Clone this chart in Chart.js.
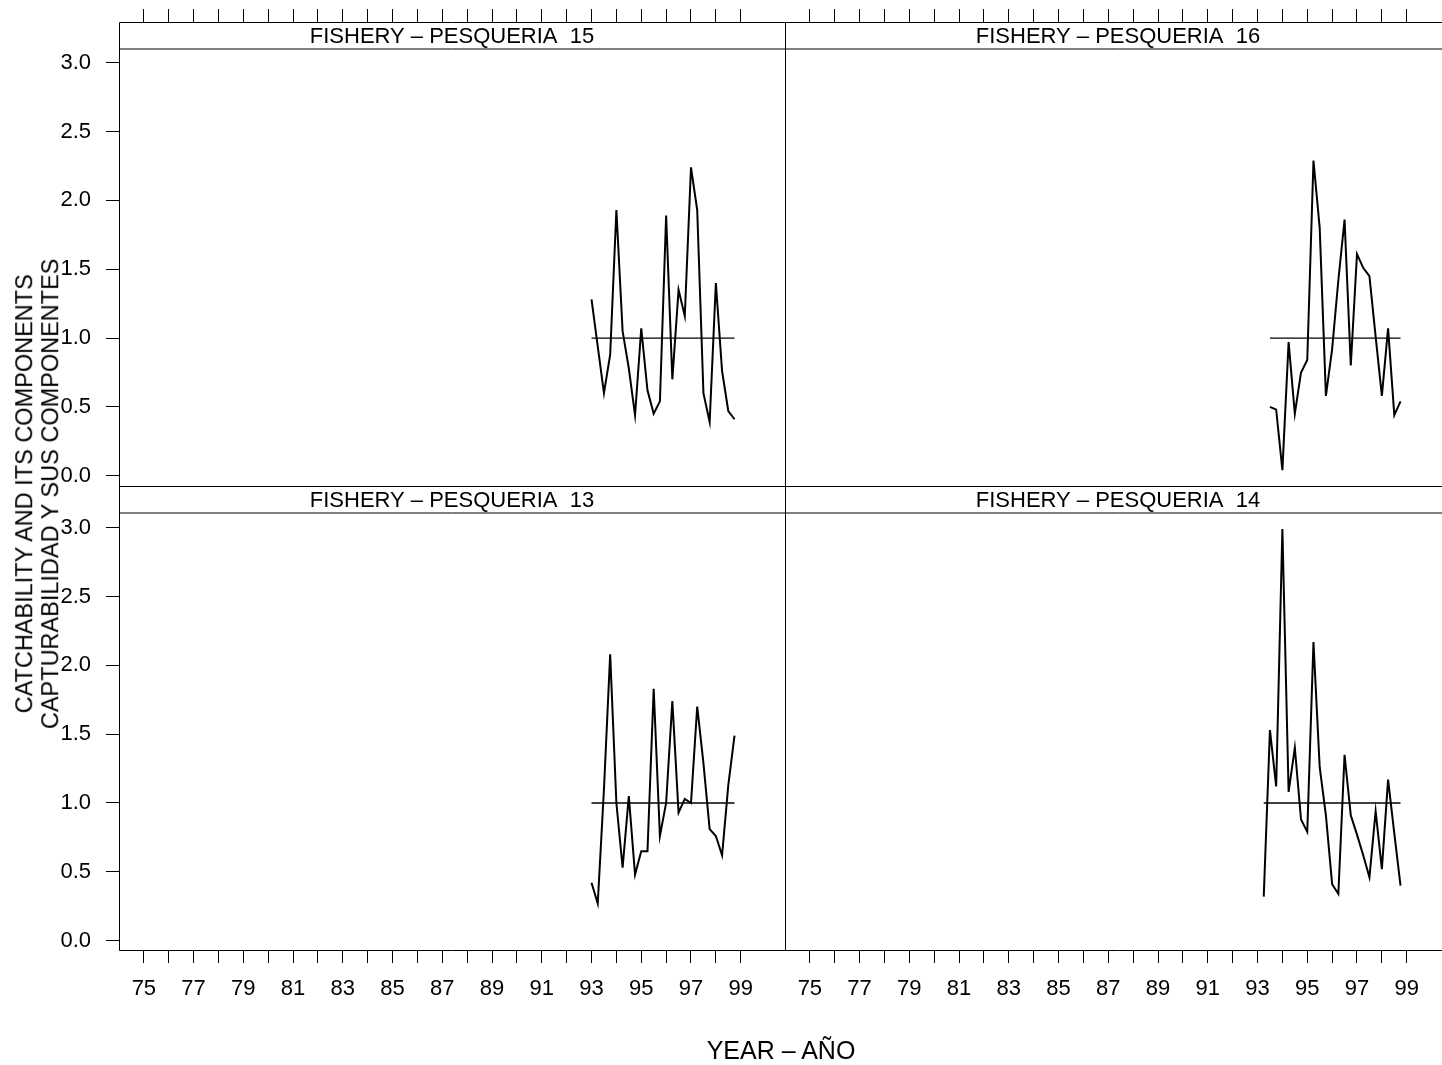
<!DOCTYPE html>
<html><head><meta charset="utf-8">
<script src="https://cdn.jsdelivr.net/npm/chart.js@4.4.1/dist/chart.umd.min.js"></script>
<style>
html,body{margin:0;padding:0;width:1442px;height:1065px;overflow:hidden;background:#fff;}
canvas{position:absolute;}
.t{position:absolute;font-family:"Liberation Sans",Arial,sans-serif;color:#000;white-space:nowrap;text-align:center;}
</style></head><body>
<canvas id="p15" width="800" height="500" style="left:0px;top:0px"></canvas>
<canvas id="p16" width="700" height="500" style="left:770px;top:0px"></canvas>
<canvas id="p13" width="800" height="595" style="left:0px;top:470px"></canvas>
<canvas id="p14" width="700" height="595" style="left:770px;top:470px"></canvas>
<div class="t" style="left:-262px;top:468px;width:600px;font-size:23.5px;line-height:25.8px;transform:rotate(-90deg);">CATCHABILITY AND ITS COMPONENTS<br>CAPTURABILIDAD Y SUS COMPONENTES</div>
<div class="t" style="left:581px;top:1036px;width:400px;font-size:25px;line-height:29px;">YEAR – AÑO</div>
<script>
// ---- data ----
const yearTicks = [75,76,77,78,79,80,81,82,83,84,85,86,87,88,89,90,91,92,93,94,95,96,97,98,99];
const yTicks = [0, 0.5, 1.0, 1.5, 2.0, 2.5, 3.0];
const refLevel = 1.0;

const q15 = [93.00,93.25,93.50,93.75,94.00,94.25,94.50,94.75,95.00,95.25,95.50,95.75,96.00,96.25,96.50,96.75,97.00,97.25,97.50,97.75,98.00,98.25,98.50,98.75];
const v15 = [1.28,0.94,0.60,0.88,1.93,1.05,0.78,0.44,1.07,0.62,0.45,0.54,1.89,0.70,1.35,1.16,2.24,1.93,0.60,0.39,1.40,0.76,0.47,0.41];

const q16 = [93.50,93.75,94.00,94.25,94.50,94.75,95.00,95.25,95.50,95.75,96.00,96.25,96.50,96.75,97.00,97.25,97.50,97.75,98.00,98.25,98.50,98.75];
const v16 = [0.50,0.48,0.04,0.97,0.45,0.75,0.84,2.29,1.80,0.58,0.92,1.42,1.86,0.80,1.61,1.51,1.45,1.01,0.58,1.07,0.44,0.54];

const q13 = [93.00,93.25,93.50,93.75,94.00,94.25,94.50,94.75,95.00,95.25,95.50,95.75,96.00,96.25,96.50,96.75,97.00,97.25,97.50,97.75,98.00,98.25,98.50,98.75];
const v13 = [0.42,0.27,1.10,2.08,1.00,0.53,1.05,0.48,0.65,0.65,1.83,0.76,1.00,1.74,0.93,1.03,1.00,1.70,1.29,0.81,0.76,0.62,1.13,1.49];

const q14 = [93.25,93.50,93.75,94.00,94.25,94.50,94.75,95.00,95.25,95.50,95.75,96.00,96.25,96.50,96.75,97.00,97.25,97.50,97.75,98.00,98.25,98.50,98.75];
const v14 = [0.32,1.53,1.12,2.99,1.08,1.40,0.88,0.79,2.17,1.26,0.91,0.41,0.34,1.35,0.91,0.77,0.62,0.46,0.94,0.52,1.17,0.78,0.40];

const stripPrefix = 'FISHERY – PESQUERIA  ';

// ---- drawing ----
const FONT = '"Liberation Sans", Arial, sans-serif';

const stripPlugin = {
  id: 'strip',
  afterDraw(chart, args, opts) {
    const ctx = chart.ctx, a = chart.chartArea;
    const L = Math.round(a.left) + 0.5, R = Math.round(a.right) + 0.5;
    const T = Math.round(a.top) + 0.5, B = Math.round(a.bottom) + 0.5;
    const S = T + opts.height;
    ctx.save();
    ctx.strokeStyle = '#000';
    ctx.lineWidth = 1;
    ctx.beginPath();
    ctx.rect(L, T, R - L, B - T);
    ctx.moveTo(L, S); ctx.lineTo(R, S);
    ctx.stroke();
    ctx.fillStyle = '#000';
    ctx.font = '22px ' + FONT;
    ctx.textAlign = 'center';
    ctx.textBaseline = 'middle';
    ctx.fillText(opts.text, (a.left + a.right) / 2, (T + S) / 2 + 1);
    ctx.restore();
  }
};

function zeroPad(s) { s.paddingLeft = 0; s.paddingRight = 0; s.paddingTop = 0; s.paddingBottom = 0; }

function makePanel(id, xs, vs, label, row, col) {
  const isTop = row === 0, isLeft = col === 0;
  const yMin = isTop ? -0.075 : -0.068;
  const yMax = isTop ? 3.296 : 3.303;
  const padding = {
    left: isLeft ? 0 : 15,
    right: isLeft ? 15 : 19,
    top: isTop ? 0 : 16,
    bottom: isTop ? 14 : 0
  };
  new Chart(document.getElementById(id), {
    type: 'line',
    data: {
      datasets: [
        { data: xs.map((x, i) => ({ x: x, y: vs[i] })), borderColor: '#000', borderWidth: 2,
          pointRadius: 0, tension: 0, fill: false, order: 0 },
        { data: [{ x: xs[0], y: refLevel }, { x: xs[xs.length - 1], y: refLevel }], borderColor: '#000',
          borderWidth: 1.3, pointRadius: 0, tension: 0, fill: false, order: 1 }
      ]
    },
    options: {
      responsive: false, animation: false, events: [],
      layout: { padding: padding },
      plugins: {
        legend: { display: false }, tooltip: { enabled: false },
        strip: { text: stripPrefix + label, height: 26.5 }
      },
      scales: {
        x: {
          type: 'linear', position: isTop ? 'top' : 'bottom', min: 74.0, max: 100.78,
          afterBuildTicks: s => { s.ticks = yearTicks.map(v => ({ value: v })); },
          afterFit: s => { s.height = isTop ? 22 : 115; zeroPad(s); },
          ticks: {
            autoSkip: false, maxRotation: 0, minRotation: 0, padding: 13, color: '#000',
            font: { family: FONT, size: 22 },
            callback: v => (isTop ? '' : (v % 2 === 1 ? String(v) : ''))
          },
          grid: { drawOnChartArea: false, drawTicks: true, tickLength: 13, color: '#000', lineWidth: 1 },
          border: { display: false }
        },
        y: {
          type: 'linear', display: isLeft, min: yMin, max: yMax,
          afterBuildTicks: s => { s.ticks = yTicks.map(v => ({ value: v })); },
          afterFit: s => { if (isLeft) s.width = 119; zeroPad(s); },
          ticks: {
            autoSkip: false, padding: 15, color: '#000',
            font: { family: FONT, size: 22 },
            callback: v => Number(v).toFixed(1)
          },
          grid: { drawOnChartArea: false, drawTicks: true, tickLength: 13, color: '#000', lineWidth: 1 },
          border: { display: false }
        }
      }
    },
    plugins: [stripPlugin]
  });
}

makePanel('p15', q15, v15, '15', 0, 0);
makePanel('p16', q16, v16, '16', 0, 1);
makePanel('p13', q13, v13, '13', 1, 0);
makePanel('p14', q14, v14, '14', 1, 1);
</script>
</body></html>
